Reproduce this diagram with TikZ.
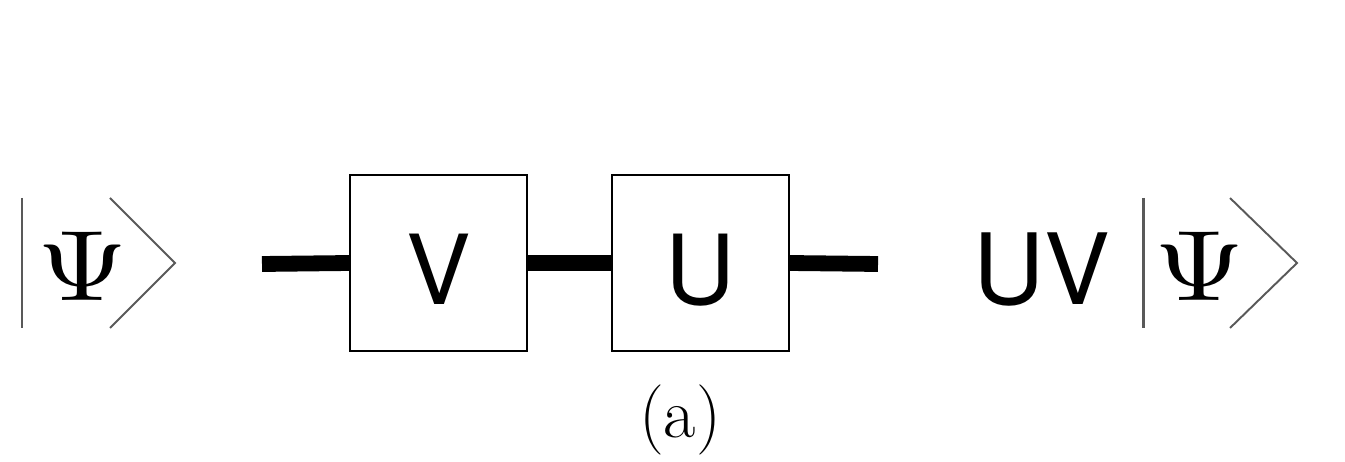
\documentclass[tikz,border=0pt]{standalone}
\usepackage{graphicx}
\usepackage{fontspec}
\newfontfamily\gatefont{TeX Gyre Heros}
\usetikzlibrary{positioning}

\newcommand{\bigpsi}{\scalebox{6.6}[5.7]{$\Psi$}}

\tikzset{
  gate/.style={draw, line width=1.1pt, minimum width=3.54cm, minimum height=3.52cm,
    inner sep=0pt, text height=1.68cm, text depth=0pt,
    font=\gatefont\fontsize{55}{60}\selectfont},
  wire/.style={line width=9pt},
  ketline/.style={draw=black!65, line width=1.1pt},
  psi/.style={inner sep=0pt},
}

\begin{document}
\begin{tikzpicture}[x=0.02cm, y=-0.02cm]
  \useasboundingbox (0,0) rectangle (1345,462);
  % input state
  \node[psi] (psiL) at (83,266) {\bigpsi};
  \draw[ketline, line width=1.7pt] (22,198) -- (22,328);
  \draw[ketline] (110,198) -- (175,263) -- (110,328);
  % the two gates
  \coordinate (inL) at (262,264);
  \node[gate] (V) at (438.5,263) {V};
  \node[gate] (U) at (700.5,263) {U};
  \coordinate (outR) at (878,264);
  \draw[wire] (inL) -- (V.west);
  \draw[wire] (V.east) -- (U.west);
  \draw[wire] (U.east) -- (outR);
  % output state
  \node[inner sep=0pt, font=\gatefont\fontsize{56}{60}\selectfont] (uv) at (1042,270) {UV};
  \node[psi] (psiR) at (1200,266) {\bigpsi};
  \draw[ketline, line width=1.7pt] (1143,198) -- (1143,328);
  \draw[ketline] (1230,198) -- (1297,263) -- (1230,328);
  % caption
  \node[inner sep=0pt, font=\fontsize{40}{44}\selectfont] (cap) at (680,420) {(a)};
\end{tikzpicture}
\end{document}
